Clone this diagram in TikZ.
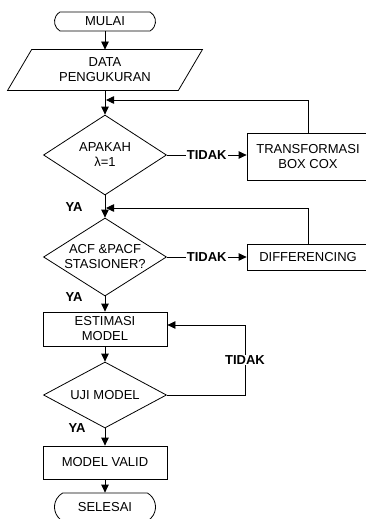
\documentclass[tikz,border=0pt]{standalone}
\usepackage{fontspec}
\setmainfont{Liberation Sans}
\usetikzlibrary{shapes.geometric,shapes.misc,arrows.meta}
\begin{document}
\begin{tikzpicture}[x=1pt,y=-1pt,line width=0.8pt,
  every node/.style={font=\fontsize{13}{15}\selectfont,align=center,inner sep=0pt},
  term/.style={draw,rounded rectangle,rounded rectangle arc length=120,minimum width=101,minimum height=19},
  proc/.style={draw,rectangle},
  dec/.style={draw,diamond,minimum width=123},
  lbl/.style={font=\fontsize{13}{15}\selectfont\bfseries,fill=white,inner sep=1pt},
  arr/.style={-{Triangle[length=8pt,width=7.5pt]}}]
\useasboundingbox (0,0) rectangle (366,519);
\clip (0,0) rectangle (366,519);
\node[term] (start) at (105,21.5) {MULAI};
\node[minimum width=170,minimum height=40] (data) at (105,70) {DATA\\PENGUKURAN};
\draw ([xshift=12pt]data.north west) -- ([xshift=12pt]data.north east)
  -- ([xshift=-12pt]data.south east) -- ([xshift=-12pt]data.south west) -- cycle;
\node[dec,minimum height=80,label={center:APAKAH\\λ=1}] (d1) at (105,155) {};
\node[proc,minimum width=122,minimum height=47] (box1) at (308,156.5) {TRANSFORMASI\\BOX COX};
\node[dec,minimum height=78,label={center:ACF \&PACF\\STASIONER?}] (d2) at (105,257) {};
\node[proc,minimum width=122,minimum height=26] (box2) at (308,257) {DIFFERENCING};
\node[proc,minimum width=124,minimum height=34] (est) at (105,329) {ESTIMASI\\MODEL};
\node[dec,minimum height=66,label={center:UJI MODEL}] (d3) at (105,395) {};
\node[proc,minimum width=124,minimum height=33] (valid) at (105,462.5) {MODEL VALID};
\node[term,minimum height=28] (end) at (105,507) {SELESAI};
\node[lbl,fill=none] (ya1) at (74,207) {YA};
\node[lbl,fill=none] (ya2) at (74,297) {YA};
\node[lbl,fill=none] (ya3) at (77,428) {YA};
\coordinate (j1) at (106,100);
\coordinate (j2) at (106,208);
\coordinate (c3) at (245,325);
\draw[arr] (start.south) -- (data.north);
\draw[arr] (data.south) -- (d1.north);
\draw[arr] (box1.north) |- (j1);
\draw[arr] (d1.east) -- node[lbl] {TIDAK} (d1.east -| box1.west);
\draw[arr] (d1.south) -- (d2.north);
\draw[arr] (box2.north) |- (j2);
\draw[arr] (d2.east) -- node[lbl] {TIDAK} (d2.east -| box2.west);
\draw[arr] (d2.south) -- (est.north);
\draw[arr] (est.south) -- (d3.north);
\draw[arr] (d3.east) -| node[lbl,pos=0.75] {TIDAK} (c3) -- (c3 -| est.east);
\draw[arr] (d3.south) -- (valid.north);
\draw[arr] (valid.south) -- (end.north);
\end{tikzpicture}
\end{document}
